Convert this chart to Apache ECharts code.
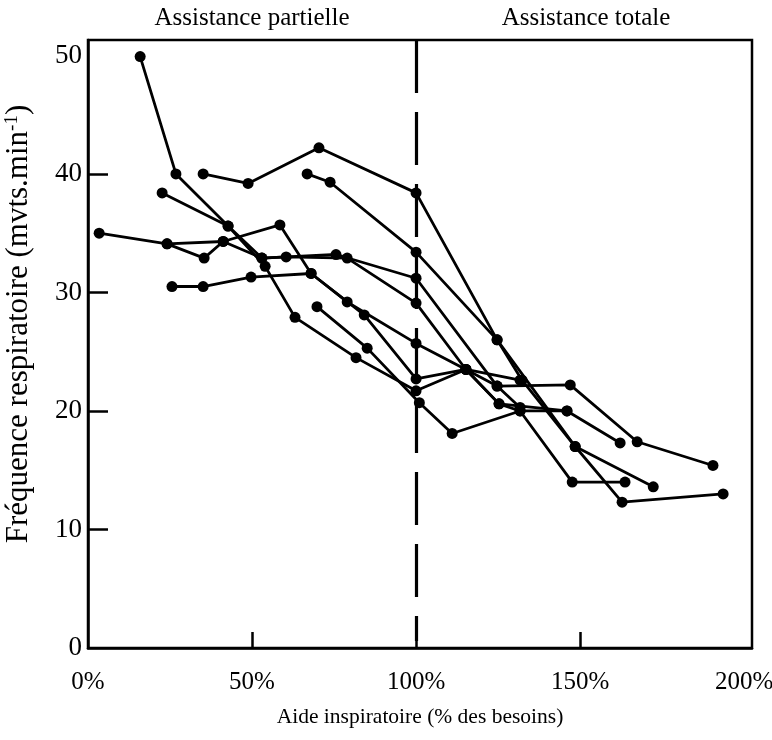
<!DOCTYPE html>
<html>
<head>
<meta charset="utf-8">
<script src="https://cdn.jsdelivr.net/npm/echarts@6/dist/echarts.min.js"></script>
<style>
html,body{margin:0;padding:0;background:#fff;}
#chart{width:772px;height:740px;}
</style>
</head>
<body>
<div id="chart"></div>
<script>
// x: aide inspiratoire (% des besoins), y: fréquence respiratoire (mvts/min)
const patientA = [[15.9,49.9],[26.8,40.0],[42.7,35.6],[54.0,32.2],[63.1,27.9],[81.7,24.5],[100,21.7],[115.2,23.5],[124.7,22.1],[147.0,22.2],[167.4,17.4],[190.5,15.4]];
const patientB = [[35.1,40.0],[48.8,39.2],[70.4,42.2],[100,38.4],[124.7,26.0],[132.3,22.6],[148.5,17.0],[172.3,13.6]];
const patientC = [[66.8,40.0],[73.8,39.3],[100,33.4],[124.7,26.0],[148.5,17.0],[162.8,12.3],[193.6,13.0]];
const patientD = [[3.4,35.0],[24.1,34.1],[35.4,32.9],[41.2,34.3],[58.5,35.7],[68.0,31.6],[79.0,29.2],[100,25.7],[115.2,23.5],[125.3,20.6],[146.0,20.0],[162.2,17.3]];
const patientE = [[22.6,38.4],[42.7,35.6],[53.0,32.9],[75.6,33.2],[100,31.2],[124.7,22.1],[131.7,20.3]];
const patientF = [[24.1,34.1],[41.2,34.3],[53.0,32.9],[60.4,33.0],[79.0,32.9],[100,29.1],[115.2,23.5],[131.7,22.6]];
const patientG = [[25.6,30.5],[35.1,30.5],[49.7,31.3],[68.0,31.6],[84.2,28.1],[100,22.7],[115.2,23.5],[125.3,20.6],[131.7,20.0],[147.6,14.0],[163.7,14.0]];
const patientH = [[69.8,28.8],[85.1,25.3],[101,20.7],[111.0,18.1],[131.7,20.0],[146.0,20.0]];

const xTickValues = [50, 100, 150];
const xLabelValues = [0, 50, 100, 150, 200];
const yTickValues = [10, 20, 30, 40];
const yLabelValues = [0, 10, 20, 30, 40, 50];
const zoneLabels = ['Assistance partielle', 'Assistance totale'];
const xTitle = 'Aide inspiratoire (% des besoins)';
const yTitle = 'Fréquence respiratoire (mvts.min{sup|-1})';
const limitValue = 100;
const X_MAX = 202.4, Y_MAX = 51.3;

const FONT = '"Liberation Serif", "DejaVu Serif", serif';
const patients = [patientA, patientB, patientC, patientD, patientE, patientF, patientG, patientH];

const series = patients.map((d) => ({
  type: 'line',
  data: d,
  symbol: 'circle',
  symbolSize: 11,
  lineStyle: { color: '#000', width: 2.8 },
  itemStyle: { color: '#000' },
  animation: false,
  z: 3
}));
series.push({
  type: 'line',
  data: [],
  markLine: {
    silent: true,
    symbol: ['none', 'none'],
    label: { show: false },
    lineStyle: { color: '#000', width: 3.2, type: [53, 19] },
    data: [[{ xAxis: limitValue, yAxis: Y_MAX }, { xAxis: limitValue, yAxis: 0.6 }]],
    animation: false
  }
});

const chart = echarts.init(document.getElementById('chart'), null, { renderer: 'canvas' });
chart.setOption({
  backgroundColor: '#fff',
  animation: false,
  grid: { left: 88, right: 20, top: 40, bottom: 92, show: true, borderColor: '#000', borderWidth: 2.5, outerBoundsMode: 'none', containLabel: false },
  graphic: [
    { type: 'text', x: 252, y: 18, style: { text: zoneLabels[0], font: '25px ' + FONT, fill: '#000', align: 'center', verticalAlign: 'middle' } },
    { type: 'text', x: 586, y: 18, style: { text: zoneLabels[1], font: '25px ' + FONT, fill: '#000', align: 'center', verticalAlign: 'middle' } },
    { type: 'text', x: 19, y: 324, rotation: Math.PI / 2,
      style: { text: yTitle, fill: '#000', fontFamily: FONT, fontSize: 31, align: 'center', verticalAlign: 'middle',
        rich: { sup: { fontFamily: FONT, fontSize: 19, fill: '#000', padding: [0, 0, 13, 0] } } } }
  ],
  xAxis: {
    type: 'value', min: 0, max: X_MAX,
    axisLine: { show: true, lineStyle: { color: '#000', width: 2.5 } },
    axisTick: { show: true, inside: true, length: 16, customValues: xTickValues, lineStyle: { color: '#000', width: 2.5 } },
    axisLabel: { customValues: xLabelValues, formatter: v => v + '%', margin: 22, color: '#000', fontFamily: FONT, fontSize: 25 },
    splitLine: { show: false },
    name: xTitle,
    nameLocation: 'middle', nameGap: 58,
    nameTextStyle: { color: '#000', fontFamily: FONT, fontSize: 21.5 }
  },
  yAxis: {
    type: 'value', min: 0, max: Y_MAX,
    axisLine: { show: true, lineStyle: { color: '#000', width: 2.5 } },
    axisTick: { show: true, inside: true, length: 20, customValues: yTickValues, lineStyle: { color: '#000', width: 2.5 } },
    axisLabel: { customValues: yLabelValues, margin: 6, color: '#000', fontFamily: FONT, fontSize: 27 },
    splitLine: { show: false }
  },
  series: series
});
</script>
</body>
</html>
